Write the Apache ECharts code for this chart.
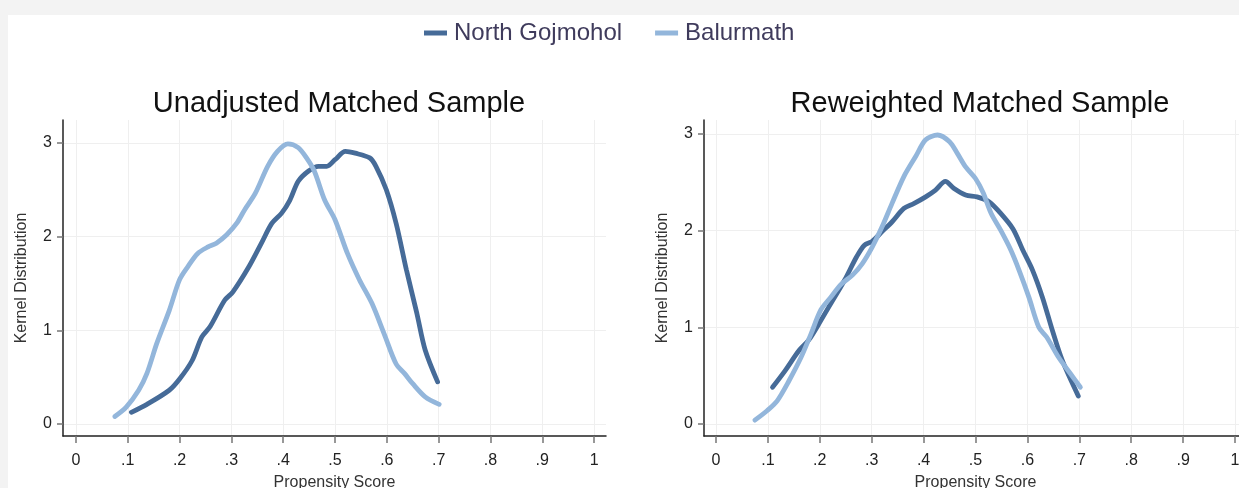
<!DOCTYPE html>
<html>
<head>
<meta charset="utf-8">
<title>Kernel distribution of propensity score</title>
<script src="https://cdn.jsdelivr.net/npm/echarts@6/dist/echarts.min.js"></script>
<style>
  html, body { margin: 0; padding: 0; background: #f3f3f3; }
  #panel { position: absolute; left: 8px; top: 15px; right: 0; bottom: 0; background: #fff; }
  #chart { position: absolute; left: 0; top: 0; width: 1239px; height: 488px; }
</style>
</head>
<body>
<div id="panel"></div>
<div id="chart"></div>
<script>
// tick values / labels shared by both panels
const xTicks = [0, 0.1, 0.2, 0.3, 0.4, 0.5, 0.6, 0.7, 0.8, 0.9, 1];
const xTickLabels = ['0', '.1', '.2', '.3', '.4', '.5', '.6', '.7', '.8', '.9', '1'];
const yTicks = [0, 1, 2, 3];

const seriesNames = ['North Gojmohol', 'Balurmath'];
const panelTitles = ['Unadjusted Matched Sample', 'Reweighted Matched Sample'];

// [propensity score, density]
const northUnadjusted = [
  [0.107, 0.125], [0.137, 0.21], [0.18, 0.36], [0.2, 0.48], [0.224, 0.675],
  [0.243, 0.93], [0.259, 1.04], [0.287, 1.32], [0.303, 1.41], [0.334, 1.68],
  [0.358, 1.93], [0.378, 2.14], [0.397, 2.25], [0.413, 2.39], [0.429, 2.59],
  [0.449, 2.70], [0.468, 2.75], [0.484, 2.75], [0.5, 2.82], [0.52, 2.91],
  [0.539, 2.89], [0.567, 2.84], [0.579, 2.75], [0.599, 2.5], [0.618, 2.14],
  [0.638, 1.64], [0.658, 1.18], [0.674, 0.79], [0.698, 0.45]
];
const balurUnadjusted = [
  [0.075, 0.08], [0.097, 0.18], [0.121, 0.36], [0.137, 0.54], [0.156, 0.86],
  [0.18, 1.21], [0.2, 1.54], [0.216, 1.68], [0.235, 1.82], [0.255, 1.89],
  [0.271, 1.93], [0.291, 2.02], [0.31, 2.14], [0.326, 2.29], [0.346, 2.46],
  [0.37, 2.75], [0.389, 2.91], [0.409, 2.99], [0.429, 2.95], [0.445, 2.84],
  [0.46, 2.70], [0.48, 2.39], [0.5, 2.18], [0.524, 1.82], [0.547, 1.54],
  [0.571, 1.29], [0.595, 0.96], [0.618, 0.64], [0.634, 0.54], [0.65, 0.43],
  [0.674, 0.29], [0.701, 0.21]
];
const northReweighted = [
  [0.109, 0.38], [0.133, 0.55], [0.16, 0.76], [0.179, 0.87], [0.202, 1.07],
  [0.225, 1.28], [0.248, 1.49], [0.271, 1.73], [0.286, 1.85], [0.301, 1.89],
  [0.32, 1.99], [0.339, 2.09], [0.362, 2.23], [0.381, 2.28], [0.404, 2.35],
  [0.423, 2.42], [0.442, 2.51], [0.458, 2.44], [0.481, 2.37], [0.503, 2.35],
  [0.526, 2.30], [0.545, 2.20], [0.572, 2.02], [0.591, 1.80], [0.61, 1.59],
  [0.629, 1.31], [0.648, 0.97], [0.667, 0.66], [0.698, 0.29]
];
const balurReweighted = [
  [0.075, 0.04], [0.099, 0.14], [0.118, 0.24], [0.141, 0.45], [0.164, 0.69],
  [0.183, 0.93], [0.202, 1.18], [0.221, 1.31], [0.24, 1.44], [0.263, 1.54],
  [0.282, 1.66], [0.301, 1.83], [0.32, 2.04], [0.339, 2.28], [0.362, 2.56],
  [0.385, 2.77], [0.404, 2.94], [0.427, 2.99], [0.45, 2.92], [0.465, 2.80],
  [0.481, 2.66], [0.5, 2.54], [0.515, 2.39], [0.53, 2.18], [0.549, 2.0],
  [0.568, 1.80], [0.584, 1.59], [0.603, 1.31], [0.622, 1.0], [0.637, 0.90],
  [0.66, 0.69], [0.683, 0.52], [0.702, 0.38]
];

const darkBlue = '#466b98';
const lightBlue = '#93b6db';
const font = '"Liberation Sans", Arial, sans-serif';

function xAxisFor(gridIndex, min, max) {
  return {
    type: 'value', gridIndex: gridIndex, min: min, max: max,
    name: 'Propensity Score', nameLocation: 'middle', nameGap: 39,
    nameTextStyle: { fontFamily: font, fontSize: 16, color: '#333' },
    axisLine: { show: true, onZero: false, lineStyle: { color: '#222', width: 1.5 } },
    axisTick: { show: true, length: 7, customValues: xTicks, lineStyle: { color: '#777', width: 1.5 } },
    axisLabel: {
      customValues: xTicks, margin: 17, fontFamily: font, fontSize: 16, color: '#222',
      formatter: v => xTickLabels[xTicks.findIndex(t => Math.abs(t - v) < 1e-6)] || ''
    },
    splitLine: { show: true, lineStyle: { color: '#efefef', width: 1 } }
  };
}

function yAxisFor(gridIndex, min, max) {
  return {
    type: 'value', gridIndex: gridIndex, min: min, max: max,
    name: 'Kernel Distribution', nameLocation: 'middle', nameGap: 33,
    nameTextStyle: { fontFamily: font, fontSize: 16, color: '#333' },
    axisLine: { show: true, onZero: false, lineStyle: { color: '#222', width: 1.5 } },
    axisTick: { show: true, length: 6, customValues: yTicks, lineStyle: { color: '#777', width: 1.5 } },
    axisLabel: { customValues: yTicks, margin: 11, fontFamily: font, fontSize: 16, color: '#222' },
    splitLine: { show: true, lineStyle: { color: '#efefef', width: 1 } }
  };
}

function curve(name, data, color, idx) {
  return {
    name: name, type: 'line', data: data,
    xAxisIndex: idx, yAxisIndex: idx,
    showSymbol: false, symbol: 'none', smooth: 0.3,
    lineStyle: { color: color, width: 4.8, cap: 'round' },
    itemStyle: { color: color },
    silent: true
  };
}

const chart = echarts.init(document.getElementById('chart'), null, { renderer: 'canvas' });
chart.setOption({
  backgroundColor: 'transparent',
  animation: false,
  legend: {
    data: seriesNames,
    top: 21, left: 424, padding: 0,
    icon: 'rect', itemWidth: 23, itemHeight: 5, itemGap: 33,
    textStyle: { fontFamily: font, fontSize: 24, color: '#3f3b5c', padding: [0, 0, 0, 2] }
  },
  title: [
    { text: panelTitles[0], left: 334, top: 84, textAlign: 'center',
      textStyle: { fontFamily: font, fontSize: 29, fontWeight: 'normal', color: '#111' } },
    { text: panelTitles[1], left: 975, top: 84, textAlign: 'center',
      textStyle: { fontFamily: font, fontSize: 29, fontWeight: 'normal', color: '#111' } }
  ],
  grid: [
    { left: 63, top: 120, width: 543, height: 316, containLabel: false, outerBoundsMode: 'none' },
    { left: 704, top: 120, width: 543, height: 316, containLabel: false, outerBoundsMode: 'none' }
  ],
  xAxis: [xAxisFor(0, -0.025, 1.023), xAxisFor(1, -0.023, 1.023)],
  yAxis: [yAxisFor(0, -0.128, 3.244), yAxisFor(1, -0.124, 3.145)],
  series: [
    curve(seriesNames[0], northUnadjusted, darkBlue, 0),
    curve(seriesNames[1], balurUnadjusted, lightBlue, 0),
    curve(seriesNames[0], northReweighted, darkBlue, 1),
    curve(seriesNames[1], balurReweighted, lightBlue, 1)
  ]
});
</script>
</body>
</html>
